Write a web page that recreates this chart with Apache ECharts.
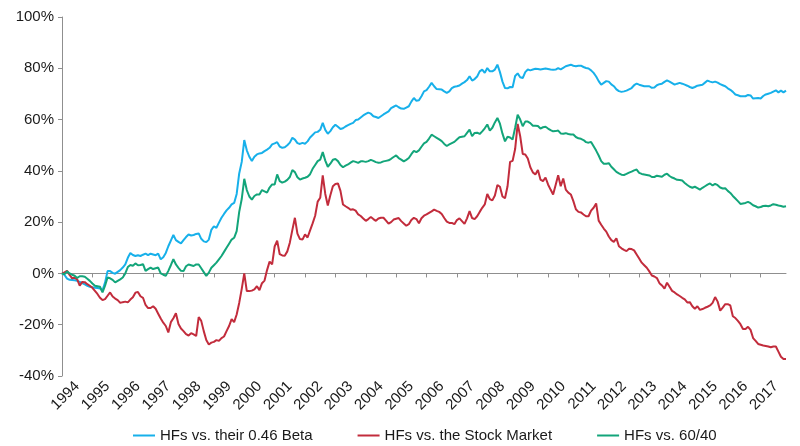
<!DOCTYPE html>
<html>
<head>
<meta charset="utf-8">
<script src="https://cdn.jsdelivr.net/npm/echarts@6/dist/echarts.min.js"></script>
<style>
html,body{margin:0;padding:0;background:#fff;}
#chart{width:800px;height:446px;}
</style>
</head>
<body>
<div id="chart"></div>
<script>
// ---- data (monthly, Jan 1994 .. Nov 2017) ----
var startYear = 1994;
var years = ['1994','1995','1996','1997','1998','1999','2000','2001','2002','2003','2004','2005','2006','2007','2008','2009','2010','2011','2012','2013','2014','2015','2016','2017'];
var seriesNames = ['HFs vs. their 0.46 Beta', 'HFs vs. the Stock Market', 'HFs vs. 60/40'];

var betaRel = [
  0,-0.6,-2.0,-2.5,-2.6,-2.7,-2.9,-3.3,-3.8,-4.3,-4.8,-5.2,
  -5.4,-5.6,-5.7,-5.9,-6.6,-3.6,0.9,0.9,0.2,-0.1,0.6,1.3,
  2.3,3.5,6.1,8,7.2,6.8,7.1,6.8,7.3,7.7,7.1,7.7,
  7.4,7.1,7.7,5.5,6.3,8,10.6,12.8,15,13,12.3,11.7,
  13,14.2,15.2,14.8,15,15.4,15.6,13.5,12.5,12.2,13.2,17,
  18.4,17.8,19.8,21.7,23.2,24.6,25.6,26.9,27.5,31,39,43.5,
  52,48,45.5,43.8,45.5,46.4,46.8,47,47.7,48.3,49,50.3,
  50.7,51.2,49.5,49,49.2,50,51,52.9,52.2,50.8,50.5,50.9,
  50.6,51.5,53,54,55,55.2,56,58.7,56,54.5,55.5,57,
  58,57.2,56.3,56.6,57.3,57.8,58.3,58.7,59.8,60,60.8,61.6,
  62.2,62.7,62.3,61.3,61,60.6,61.3,62,62.6,63.2,64.5,65,
  65.5,64.8,64.3,64.2,64.7,65.2,67,68.4,67.3,67.5,69.1,71,
  71.5,72.8,74.3,73,71.9,71.8,71.7,71,70.4,71,72.3,72.8,
  73,73.3,74,74.6,75.4,76.9,75.2,75.8,76.8,78.8,79.5,78.2,
  80.1,78.8,78.8,79.5,81.4,78.5,74.8,72.3,72.2,72.7,72.6,77,
  78,76.5,76.2,78.5,79.5,79.2,79.5,79.8,79.7,79.5,79.7,79.9,
  79.7,79.5,79.4,79.5,80.1,79.6,80.2,80.8,81.1,81.4,81,80.8,
  81,81,80.5,80.1,79.9,79.2,78.2,76.8,75,73.6,74.3,75,
  74.8,73.7,73,71.8,71.1,70.8,71,71.3,71.8,72.3,73.4,74,
  73.6,73.3,73,73,73,72.4,72.5,73.4,73.8,74,74.7,75.3,
  74.8,74.2,73.6,74,74.3,74,73.6,73.2,72.7,72.3,72.7,73.2,
  73.4,73.6,74.4,75.2,74.8,74.5,74.8,74.4,73.8,73.4,73,72.2,
  71.6,70.8,69.8,69.5,69.1,69.1,69.1,69.6,69.4,68.2,68.3,68.4,
  68.2,69.2,69.8,70.1,70.4,70.9,71.4,70.6,71.3,70.6,71.3
];

var stockRel = [
  0,0.4,1,-0.6,-1.9,-1.7,-2.3,-4.8,-3.3,-3.4,-4.2,-4.8,
  -5.6,-6.8,-8,-9.5,-10.4,-10,-8.7,-7.4,-9,-9.8,-10.4,-11.5,
  -11.2,-11,-11.3,-10.2,-9.3,-7.5,-7.2,-8.9,-9.5,-12.3,-13.5,-13.5,
  -12.8,-13.8,-15.7,-17.6,-19.2,-20.5,-23,-19,-17.5,-15.5,-19.7,-21.5,
  -22.5,-23.7,-24.2,-23.3,-23.8,-24.4,-17,-18.5,-22.5,-26,-27.7,-27,
  -26.7,-26,-26.3,-25.2,-24.6,-22.5,-20.5,-17.8,-19,-16,-11.5,-6,
  0,-6.9,-6.9,-6.7,-6.2,-5,-6.5,-3.8,-2.8,1.3,4.6,3.5,
  10.5,12.8,7.5,7,6.9,8.6,12,17,21.7,15.5,13.4,13.2,
  15.2,14,16.8,19.5,22.5,28,29.5,38.2,31,26.5,30.5,34,
  34.9,35.1,32.2,26.9,26.2,25.6,24.8,25,24.5,23,22.4,21.4,
  20.5,21.2,22,21.2,20.5,21.4,21.7,21.7,20.6,19.4,20,21,
  21.3,21.6,20.4,19.5,18.6,19.2,20.8,21.7,21.2,19.6,21.5,22.5,
  23,23.6,24.2,24.9,24.4,24,23.2,21.6,20.2,19.7,19.7,19.2,
  20.8,21.5,20.4,19.3,21.5,24.3,21.6,21.2,22.3,24,25.6,26.9,
  31,29,28.5,30.4,34.5,33.8,30,29.3,34,43.5,43.9,48.5,
  58.3,53.5,46.6,46.4,44.8,41.4,39.4,38.6,40.3,36.6,36,37.4,
  34.7,32.7,30.8,34.5,38.3,34,37,32.7,31.5,30.8,28.2,25,
  24,23.8,23,22.3,22.3,24.5,25.6,27.3,20.6,19,17.5,16.3,
  14.4,13,12.3,13.7,10.6,9.8,9.2,8.7,9.6,9.5,9,7.4,
  5.8,4.2,3.2,2.2,0.8,-0.8,-1.2,-1.8,-3.8,-4.7,-5.9,-3.6,
  -5.2,-6.8,-7.4,-8.2,-8.8,-9.5,-10.1,-11.3,-11.2,-12.8,-13.8,-12.8,
  -14.2,-13.9,-13.4,-13,-12.5,-11.5,-9.2,-11,-14.5,-13.3,-12,-12,
  -12.5,-16.7,-17.4,-18.5,-19.8,-21.7,-21.7,-20.8,-22,-25.2,-26.3,-27.5,
  -27.8,-28.1,-28.3,-28.5,-28.8,-28.5,-28.5,-30.5,-32.5,-33.4,-33.4
];

var balancedRel = [
  0,-0.3,0.8,0,-0.5,-0.9,-1.8,-1.1,-1.1,-1.3,-2.1,-2.9,
  -3.9,-4.8,-5,-5.2,-7.4,-4.8,-1.6,-1.9,-2.5,-3.5,-2.9,-2.3,
  -1.6,0,2.5,3.3,3,3.9,3.2,3.3,3.6,1,1.7,2.3,
  1.7,2,2.3,0,-0.5,-0.9,1,3.2,5.6,3.5,2.2,1,
  0.9,2.8,3.5,3.2,2.9,3.5,3.5,2,0.5,-1,0.3,2.2,
  3.2,4.2,5.5,6.8,8.4,10,11.6,13.2,13.9,16.5,24,29,
  36.9,32.5,30,28.8,30.2,30.8,30.8,32.5,32,31.5,33.5,34.7,
  34.7,38.6,36,35.4,35.8,36.5,37.6,40.3,39.5,37.5,36.6,37,
  37.3,37.7,38.7,40.8,42.3,43.8,44.4,47.3,44,41.6,42.8,44.3,
  44.6,43.8,42.3,41.4,42,42.5,43.2,43.8,43.5,43.1,43.7,43.7,
  43.5,43.8,44.3,43.9,43.4,43.2,43.3,43.7,43.9,44.1,44.7,45.4,
  46,45,44.4,43.7,44.3,45,46.5,47.8,47.3,48,49.4,50.7,
  51.3,52.6,54.1,53.5,52.9,52.3,51.6,50.5,49.7,50.3,50.8,51.3,
  52.2,53.1,53.3,53.5,54.8,56.1,53.5,54.8,54.9,54.4,55.4,56.6,
  58.1,55.7,56.8,58.9,60.6,58.4,54.5,51.5,53.3,53,52.2,56.8,
  61.9,60,57.4,59.2,59.2,58.6,57.6,57.6,57.5,56.5,57,57.2,
  56.5,55.9,55.4,55.5,55.7,54.6,54.5,54.7,54.4,54.2,54.2,53.2,
  52.7,52.5,52,51.2,51,51.3,49.6,47.9,46,43.8,42.8,42.8,
  43,41.6,40.6,39.6,39,38.5,38.4,38.8,39.3,39.7,40.2,40.5,
  39.2,38.8,38.6,38.4,38.2,37.6,37.6,38.1,37.9,37.7,38.5,38.9,
  38,37.4,37,36.5,36.4,36.2,35.3,34.5,33.8,33.4,33.8,33.3,
  32.7,33.4,34,34.6,35.1,34.3,34.9,34.4,33.5,33.1,33.2,32.2,
  31.4,30.2,29.2,28.2,27.1,27.3,27.5,27.9,27.4,26.6,26.2,25.7,
  25.9,26.3,26.4,26.2,26.5,27,26.8,26.5,26.3,26,26.2
];

var months = [];
for (var i = 0; i < betaRel.length; i++) {
  var y = startYear + Math.floor(i / 12);
  var m = (i % 12) + 1;
  months.push(y + '-' + (m < 10 ? '0' + m : m));
}

var FONT = '"Liberation Sans", Arial, Helvetica, sans-serif';
var AXIS_COLOR = '#8f8f8f';
var TEXT_COLOR = '#1a1a1a';
var FS = 15;

var chart = echarts.init(document.getElementById('chart'), null, {renderer: 'canvas'});
chart.setOption({
  animation: false,
  backgroundColor: '#ffffff',
  color: ['#17b0ea', '#c22c3c', '#13a57a'],
  textStyle: {fontFamily: FONT},
  grid: {left: 62, right: 14, top: 17, bottom: 70, containLabel: false},
  legend: {
    data: seriesNames,
    left: 128,
    top: 423,
    icon: 'rect',
    itemWidth: 22,
    itemHeight: 2,
    itemGap: 45,
    textStyle: {fontFamily: FONT, fontSize: FS, color: TEXT_COLOR}
  },
  xAxis: [
    {
      type: 'category',
      data: months,
      boundaryGap: false,
      position: 'bottom',
      axisLine: {show: true, onZero: true, lineStyle: {color: AXIS_COLOR, width: 1}},
      axisTick: {show: true, length: 4, lineStyle: {color: AXIS_COLOR},
        interval: function (idx) { return idx % 12 === 0; }},
      axisLabel: {show: false},
      splitLine: {show: false}
    },
    {
      type: 'category',
      data: months,
      boundaryGap: false,
      position: 'bottom',
      axisLine: {show: false, onZero: false},
      axisTick: {show: false},
      axisLabel: {
        show: true,
        rotate: 45,
        margin: 8,
        fontSize: FS,
        fontFamily: FONT,
        color: TEXT_COLOR,
        interval: function (idx) { return idx % 12 === 6; },
        formatter: function (v) { return years[parseInt(v.slice(0, 4), 10) - startYear]; }
      },
      splitLine: {show: false}
    }
  ],
  yAxis: {
    type: 'value',
    min: -40,
    max: 100,
    interval: 20,
    axisLine: {show: true, lineStyle: {color: AXIS_COLOR, width: 1}},
    axisTick: {show: true, length: 4, lineStyle: {color: AXIS_COLOR}},
    axisLabel: {formatter: '{value}%', fontSize: FS, fontFamily: FONT, color: TEXT_COLOR, margin: 8},
    splitLine: {show: false}
  },
  series: [
    {name: seriesNames[0], type: 'line', data: betaRel, xAxisIndex: 0, showSymbol: false, lineStyle: {width: 2}},
    {name: seriesNames[1], type: 'line', data: stockRel, xAxisIndex: 0, showSymbol: false, lineStyle: {width: 2}},
    {name: seriesNames[2], type: 'line', data: balancedRel, xAxisIndex: 0, showSymbol: false, lineStyle: {width: 2}}
  ]
});
</script>
</body>
</html>
